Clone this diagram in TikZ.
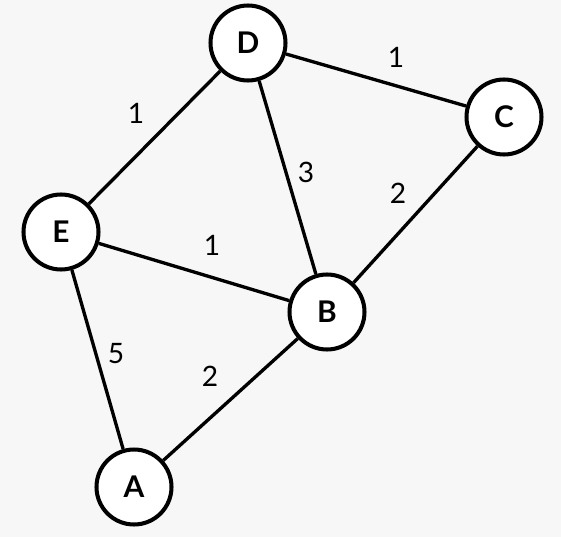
\documentclass[tikz,border=0pt]{standalone}
\usepackage{fontspec}
\setmainfont{Lato}
\usetikzlibrary{positioning}
\definecolor{paper}{RGB}{247,247,247}

\begin{document}
\begin{tikzpicture}[x=0.02cm,y=-0.02cm,
    vertex/.style={circle,draw=black,fill=white,line width=2.3pt,
      minimum size=1.5cm,inner sep=0pt,font=\fontsize{17}{19}\selectfont\bfseries},
    wedge/.style={line width=1.9pt},
    weight/.style={font=\fontsize{16}{18}\selectfont}]
    % background
    \fill[paper] (0,0) rectangle (561,537);
    \useasboundingbox (0,0) rectangle (561,537);
    % vertices
    \node[vertex] (d) at (248,43) {D};
    \node[vertex] (c) at (504,117) {C};
    \node[vertex] (e) at (61,232) {E};
    \node[vertex] (b) at (327,312) {B};
    \node[vertex] (a) at (134,487) {A};
    % edges
    \draw[wedge] (d) -- (c);
    \draw[wedge] (e) -- (d);
    \draw[wedge] (d) -- (b);
    \draw[wedge] (c) -- (b);
    \draw[wedge] (e) -- (b);
    \draw[wedge] (e) -- (a);
    \draw[wedge] (a) -- (b);
    % weights
    \node[weight] (wdc) at (396,57) {1};
    \node[weight] (wed) at (136,113) {1};
    \node[weight] (wdb) at (306,172) {3};
    \node[weight] (wcb) at (398,193) {2};
    \node[weight] (web) at (212,245) {1};
    \node[weight] (wea) at (116,354) {5};
    \node[weight] (wab) at (210,376) {2};
\end{tikzpicture}
\end{document}
